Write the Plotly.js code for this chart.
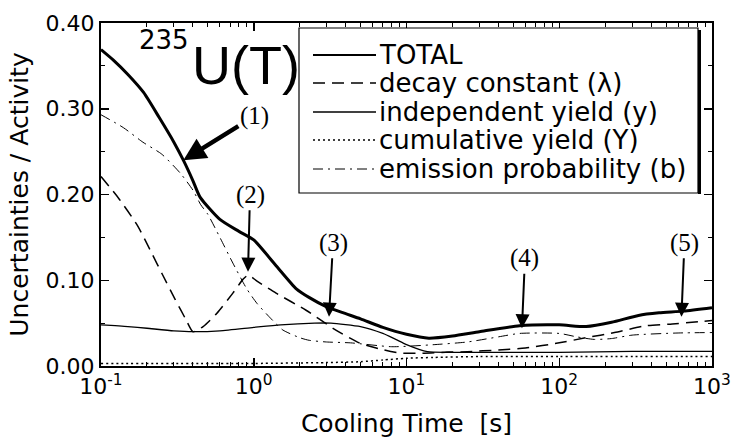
<!DOCTYPE html>
<html>
<head>
<meta charset="utf-8">
<script src="https://cdn.plot.ly/plotly-3.0.1.min.js"></script>
<style>html,body{margin:0;padding:0;background:#fff;}#chart{width:737px;height:438px;}</style>
</head>
<body>
<div id="chart"></div>
<script>
// ---- data ----
const seriesNames = ['TOTAL', 'decay constant (\u03bb)', 'independent yield (y)', 'cumulative yield (Y)', 'emission probability (b)'];

const totalX = [0.1, 0.12, 0.15, 0.19, 0.24, 0.3, 0.346, 0.40, 0.445, 0.6, 0.8, 1.0, 1.4, 1.9, 2.3, 3.0, 4.0, 5.0, 7.0, 10, 14, 20, 30, 55, 100, 150, 220, 330, 450, 650, 1000];
const totalY = [0.369, 0.357, 0.340, 0.319, 0.290, 0.261, 0.240, 0.216, 0.197, 0.171, 0.157, 0.147, 0.117, 0.090, 0.080, 0.069, 0.061, 0.055, 0.045, 0.037, 0.0325, 0.035, 0.040, 0.047, 0.048, 0.046, 0.051, 0.059, 0.062, 0.064, 0.068];

const decayX = [0.1, 0.13, 0.173, 0.217, 0.252, 0.305, 0.36, 0.40, 0.466, 0.57, 0.73, 0.85, 0.92, 1.05, 1.4, 2.2, 3.3, 4.9, 7.0, 9.1, 13, 18, 25, 40, 60, 100, 150, 230, 370, 550, 1000];
const decayY = [0.221, 0.196, 0.164, 0.130, 0.107, 0.078, 0.054, 0.040, 0.046, 0.061, 0.085, 0.101, 0.106, 0.099, 0.085, 0.065, 0.044, 0.027, 0.019, 0.015, 0.015, 0.016, 0.0167, 0.0187, 0.021, 0.027, 0.033, 0.039, 0.047, 0.049, 0.053];

const indepX = [0.1, 0.15, 0.2, 0.3, 0.4, 0.6, 1.0, 1.5, 2.5, 3.2, 5.0, 7.0, 8.5, 10, 13.7, 20, 50, 100, 300, 1000];
const indepY = [0.048, 0.046, 0.044, 0.041, 0.040, 0.041, 0.045, 0.048, 0.050, 0.050, 0.046, 0.038, 0.031, 0.025, 0.0167, 0.016, 0.016, 0.016, 0.017, 0.017];

const cumulX = [0.1, 1, 3, 5, 7, 10, 15, 30, 100, 1000];
const cumulY = [0.003, 0.003, 0.004, 0.005, 0.007, 0.009, 0.010, 0.011, 0.011, 0.011];

const emisX = [0.1, 0.14, 0.188, 0.25, 0.33, 0.40, 0.45, 0.5, 0.6, 0.73, 0.9, 1.05, 1.3, 1.55, 2.0, 2.3, 3.0, 4.3, 8.0, 14, 25, 40, 55, 100, 130, 170, 220, 300, 600, 1000];
const emisY = [0.293, 0.278, 0.261, 0.247, 0.225, 0.205, 0.188, 0.177, 0.150, 0.120, 0.090, 0.073, 0.055, 0.042, 0.033, 0.030, 0.028, 0.027, 0.0225, 0.0245, 0.028, 0.034, 0.038, 0.038, 0.034, 0.031, 0.032, 0.036, 0.0385, 0.039];

const tickVals = [0.1, 1, 10, 100, 1000];
const tickText = ['10<sup>-1</sup>', '10<sup>0</sup>', '10<sup>1</sup>', '10<sup>2</sup>', '10<sup>3</sup>'];

const markLabels = ['(1)', '(2)', '(3)', '(4)', '(5)'];
const markX = [0.346, 0.917, 3.11, 57, 631];
const markY = [0.240, 0.110, 0.0575, 0.044, 0.0575];

// ---- styles ----
const styles = [
  {width: 3, dash: 'solid'},
  {width: 1.5, dash: '12px,7px'},
  {width: 1.3, dash: 'solid'},
  {width: 1.5, dash: '2px,3px'},
  {width: 1, dash: '10px,5px,2px,5px'}
];
const xs = [totalX, decayX, indepX, cumulX, emisX];
const ys = [totalY, decayY, indepY, cumulY, emisY];

const traces = xs.map((x, i) => ({
  x: x, y: ys[i], mode: 'lines', name: seriesNames[i], showlegend: false,
  line: {color: '#000', width: styles[i].width, dash: styles[i].dash, shape: 'spline', smoothing: 0.6}
}));

// plot area in pixels: x 101..712, y 23..366
const L = 101, R = 712, T = 23, B = 366;
const px = v => (v - L) / (R - L);
const py = v => (B - v) / (B - T);

const shapes = [];
const annotations = [];

// custom legend box
shapes.push({type: 'rect', xref: 'paper', yref: 'paper', x0: px(299), x1: px(698), y0: py(193), y1: py(28),
  line: {color: '#000', width: 1.2}, fillcolor: '#fff', layer: 'above'});
shapes.push({type: 'line', xref: 'paper', yref: 'paper', x0: px(699.5), x1: px(699.5), y0: py(194), y1: py(30),
  line: {color: '#000', width: 3}, layer: 'above'});
const rowsY = [55, 83, 112, 140, 169];
seriesNames.forEach((n, i) => {
  shapes.push({type: 'line', xref: 'paper', yref: 'paper', x0: px(313), x1: px(376), y0: py(rowsY[i]), y1: py(rowsY[i]),
    line: {color: '#000', width: Math.min(styles[i].width, 2), dash: styles[i].dash}, layer: 'above'});
  annotations.push({xref: 'paper', yref: 'paper', x: px(377), y: py(rowsY[i]), xanchor: 'left', yanchor: 'middle',
    text: n, showarrow: false, font: {family: 'DejaVu Sans, Arial, sans-serif', size: 26, color: '#000'}});
});

// label 235U(T)
annotations.push({xref: 'paper', yref: 'paper', x: px(164), y: py(40), xanchor: 'center', yanchor: 'middle',
  text: '235', showarrow: false, font: {family: 'DejaVu Sans, Arial, sans-serif', size: 26, color: '#000'}});
annotations.push({xref: 'paper', yref: 'paper', x: px(190), y: py(65), xanchor: 'left', yanchor: 'middle',
  text: 'U(T)', showarrow: false, font: {family: 'Liberation Sans, Arial, sans-serif', size: 54, color: '#000'}});

// numbered arrows
const markOff = [[71, -44], [2, -77], [4, -74], [3, -70], [3, -74]];
markLabels.forEach((t, i) => {
  annotations.push({x: Math.log10(markX[i]), y: markY[i], xref: 'x', yref: 'y', text: t,
    showarrow: true, ax: markOff[i][0], ay: markOff[i][1], arrowhead: 2,
    arrowwidth: i === 0 ? 4.5 : 2, arrowsize: i === 0 ? 1 : 1.4, arrowcolor: '#000',
    font: {family: 'Liberation Serif, Times New Roman, serif', size: 25, color: '#000'}});
});

const minorX = [];
for (let d = -1; d < 3; d++) for (let k = 2; k <= 9; k++) minorX.push(k * Math.pow(10, d));

const layout = {
  width: 737, height: 438,
  margin: {l: L, r: 737 - R, t: T, b: 438 - B},
  paper_bgcolor: '#fff', plot_bgcolor: '#fff',
  showlegend: false,
  font: {family: 'DejaVu Sans, Arial, sans-serif', color: '#000'},
  xaxis: {
    type: 'log', range: [-1, 3], tickmode: 'array', tickvals: tickVals, ticktext: tickText,
    ticks: 'inside', ticklen: 8, tickwidth: 1.5, tickcolor: '#000',
    minor: {tickmode: 'array', tickvals: minorX, ticks: 'inside', ticklen: 4, tickwidth: 1, tickcolor: '#000'},
    showline: true, linewidth: 2, linecolor: '#000', mirror: 'allticks',
    showgrid: false, zeroline: false,
    tickfont: {family: 'DejaVu Sans, Arial, sans-serif', size: 22, color: '#000'},
    title: {text: 'Cooling Time\u00a0 [s]', font: {family: 'DejaVu Sans, Arial, sans-serif', size: 25, color: '#000'}, standoff: 16}
  },
  yaxis: {
    range: [0, 0.4], dtick: 0.1, tickformat: '.2f',
    ticks: 'inside', ticklen: 8, tickwidth: 1.5, tickcolor: '#000',
    minor: {dtick: 0.05, ticks: 'inside', ticklen: 4, tickwidth: 1, tickcolor: '#000'},
    showline: true, linewidth: 2, linecolor: '#000', mirror: 'allticks',
    showgrid: false, zeroline: false,
    tickfont: {family: 'DejaVu Sans, Arial, sans-serif', size: 22, color: '#000'},
    title: {text: 'Uncertainties / Activity', font: {family: 'DejaVu Sans, Arial, sans-serif', size: 25, color: '#000'}, standoff: 10}
  },
  shapes: shapes,
  annotations: annotations
};

Plotly.newPlot('chart', traces, layout, {staticPlot: true, displayModeBar: false});
</script>
</body>
</html>
